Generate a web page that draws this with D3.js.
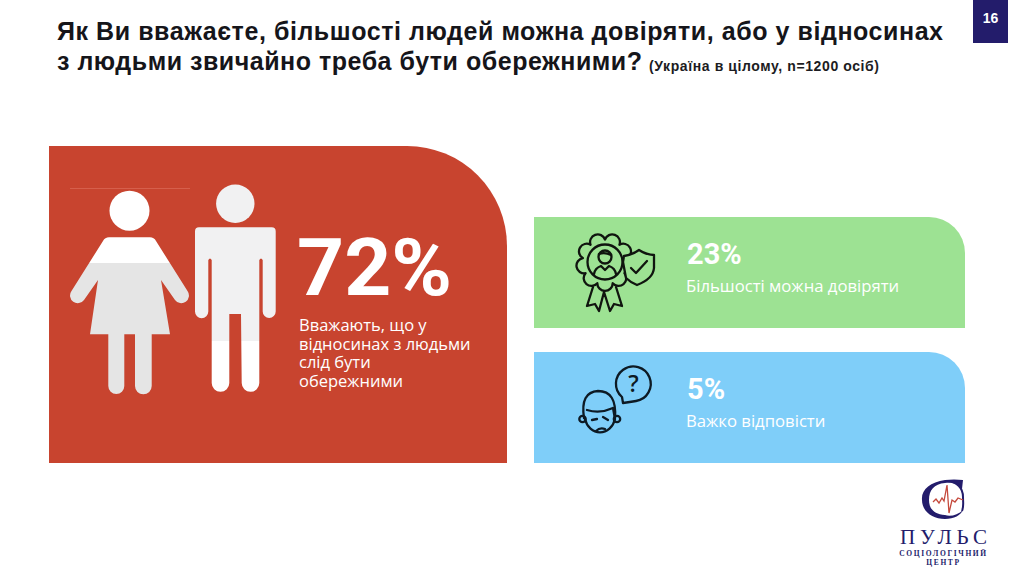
<!DOCTYPE html>
<html>
<head>
<meta charset="utf-8">
<script src="https://cdn.jsdelivr.net/npm/d3@7"></script>
<style>
  html, body { margin: 0; padding: 0; background: #fff; }
  svg { display: block; }
</style>
</head>
<body>
<div class="chart"></div>
<script>
// chart values
var categories = ["cautious", "trust", "hard"];
var values = [72, 23, 5];
var captions = [
  ["Вважають, що у", "відносинах з людьми", "слід бути", "обережними"],
  ["Більшості можна довіряти"],
  ["Важко відповісти"]
];
var colors = ["#C8442F", "#9DE293", "#7FCEF9"];

var titleLines = [
  "Як Ви вважаєте, більшості людей можна довіряти, або у відносинах",
  "з людьми звичайно треба бути обережними?"
];
var subtitle = "(Україна в цілому, n=1200 осіб)";
var pageNumber = "16";
var logoName = "ПУЛЬС";
var logoLines = ["СОЦІОЛОГІЧНИЙ", "ЦЕНТР"];

var svgWidth = 1024;
var svgHeight = 572;
var navy = "#231C6B";
var font = "'Open Sans', 'Noto Sans', sans-serif";
var numberFont = "Roboto, 'Open Sans', sans-serif";
var titleFont = "'Liberation Sans', Arial, sans-serif";

var svg = d3.select(".chart")
  .append("svg")
  .attr("width", svgWidth)
  .attr("height", svgHeight)
  .attr("viewBox", `0 0 ${svgWidth} ${svgHeight}`);

// panel with only the top right corner rounded
function panelPath(x, y, w, h, r) {
  var p = d3.path();
  p.moveTo(x, y);
  p.lineTo(x + w - r, y);
  p.arcTo(x + w, y, x + w, y + r, r);
  p.lineTo(x + w, y + h);
  p.lineTo(x, y + h);
  p.closePath();
  return p.toString();
}

// header
var title = svg.append("g");
title.selectAll("text")
  .data(titleLines)
  .enter()
  .append("text")
  .attr("x", 57)
  .attr("y", (d, i) => 40 + i * 30)
  .attr("font-family", titleFont)
  .attr("font-weight", 700)
  .attr("font-size", 25)
  .attr("textLength", (d, i) => i === 0 ? 886 : 585)
  .attr("lengthAdjust", "spacing")
  .attr("fill", "#15151a")
  .text(d => d);

svg.append("text")
  .attr("x", 649)
  .attr("y", 71)
  .attr("font-family", titleFont)
  .attr("font-weight", 700)
  .attr("font-size", 14)
  .attr("textLength", 230)
  .attr("lengthAdjust", "spacing")
  .attr("fill", "#1c1c22")
  .text(subtitle);

svg.append("rect")
  .attr("x", 973)
  .attr("y", 0)
  .attr("width", 35)
  .attr("height", 43)
  .attr("fill", navy);

svg.append("text")
  .attr("x", 990.5)
  .attr("y", 23)
  .attr("text-anchor", "middle")
  .attr("font-family", titleFont)
  .attr("font-weight", 700)
  .attr("font-size", 14)
  .attr("fill", "#fff")
  .text(pageNumber);

// big red panel
svg.append("path")
  .attr("d", panelPath(49, 146, 458, 317, 100))
  .attr("fill", colors[0]);

svg.append("line")
  .attr("x1", 70).attr("x2", 190)
  .attr("y1", 188.5).attr("y2", 188.5)
  .attr("stroke", "#d65f4c")
  .attr("stroke-width", 1);

// the two smaller panels
var yBand = d3.scaleBand()
  .domain(categories.slice(1))
  .range([217, 463])
  .paddingInner(0.178);

var smallData = categories.slice(1).map((c, i) => ({
  key: c,
  value: values[i + 1],
  caption: captions[i + 1][0],
  color: colors[i + 1]
}));

var cards = svg.selectAll(".card")
  .data(smallData)
  .enter()
  .append("g")
  .attr("class", "card")
  .attr("transform", d => `translate(534, ${yBand(d.key)})`);

cards.append("path")
  .attr("d", panelPath(0, 0, 431, yBand.bandwidth(), 36))
  .attr("fill", d => d.color);

cards.append("text")
  .attr("x", 153)
  .attr("y", 47)
  .attr("font-family", numberFont)
  .attr("font-weight", 700)
  .attr("font-size", 29)
  .attr("fill", "#fff")
  .text(d => d.value + "%");

cards.append("text")
  .attr("x", 152)
  .attr("y", 75)
  .attr("font-family", font)
  .attr("font-size", 16.7)
  .attr("fill", "#fff")
  .text(d => d.caption);

// big number and caption
svg.append("text")
  .attr("x", 297)
  .attr("y", 295)
  .attr("font-family", numberFont)
  .attr("font-weight", 700)
  .attr("font-size", 80)
  .attr("textLength", 155)
  .attr("lengthAdjust", "spacingAndGlyphs")
  .attr("fill", "#fff")
  .text(values[0] + "%");

svg.append("text")
  .attr("font-family", font)
  .attr("font-size", 16.5)
  .attr("fill", "#fff")
  .selectAll("tspan")
  .data(captions[0])
  .enter()
  .append("tspan")
  .attr("x", 299)
  .attr("y", (d, i) => 331 + i * 18.7)
  .text(d => d);

// woman, white on top and grey below
var defs = svg.append("defs");
defs.append("clipPath").attr("id", "womanTop")
  .append("rect").attr("x", 60).attr("y", 180).attr("width", 140).attr("height", 83);
defs.append("clipPath").attr("id", "womanBottom")
  .append("rect").attr("x", 60).attr("y", 263).attr("width", 140).attr("height", 140);
defs.append("clipPath").attr("id", "manTop")
  .append("rect").attr("x", 185).attr("y", 180).attr("width", 100).attr("height", 161);
defs.append("clipPath").attr("id", "manBottom")
  .append("rect").attr("x", 185).attr("y", 341).attr("width", 100).attr("height", 60);

function drawWoman(g) {
  g.append("circle").attr("cx", 129.5).attr("cy", 210.7).attr("r", 20);
  g.append("path").attr("d",
    "M109,237.3 L150,237.3 Q154,237.3 156,241 L187.5,291 " +
    "A7.5,7.5 0 0 1 175,300 L161,280 L170,334.3 L151.7,334.3 L151.7,386 " +
    "A8.3,8.3 0 0 1 135,386 L135,334.3 L124.3,334.3 L124.3,386 " +
    "A8,8 0 0 1 108.3,386 L108.3,334.3 L90,334.3 L98,280 L84,300 " +
    "A7.5,7.5 0 0 1 71.5,291 L103,241 Q105,237.3 109,237.3 Z");
}

function drawMan(g) {
  g.append("circle").attr("cx", 235.3).attr("cy", 203.7).attr("r", 19.2);
  g.append("path").attr("d",
    "M199,227.3 L271.7,227.3 Q275.7,227.3 275.7,231.3 L275.7,311.5 " +
    "A6.5,6.5 0 0 1 262.7,311.5 L262.7,260 Q261,257 259.3,260 L259.3,383 " +
    "A8.5,8.5 0 0 1 241.7,383 L241,314 L229.3,314 L229.3,383 " +
    "A8.8,8.8 0 0 1 211.7,383 L211.7,260 Q210,257 208.3,260 L208.3,311.5 " +
    "A6.5,6.5 0 0 1 195,311.5 L195,231.3 Q195,227.3 199,227.3 Z");
}

drawWoman(svg.append("g").attr("clip-path", "url(#womanTop)").attr("fill", "#fff"));
drawWoman(svg.append("g").attr("clip-path", "url(#womanBottom)").attr("fill", "#E5E5E5"));
drawMan(svg.append("g").attr("clip-path", "url(#manTop)").attr("fill", "#F1F1F2"));
drawMan(svg.append("g").attr("clip-path", "url(#manBottom)").attr("fill", "#fff"));

// rosette icon
var rosette = svg.append("g")
  .attr("fill", "none")
  .attr("stroke", "#10150f")
  .attr("stroke-width", 2.3)
  .attr("stroke-linecap", "round")
  .attr("stroke-linejoin", "round");

var lobes = 9, rr = 22.5, rosetteD = "";
d3.range(lobes).forEach(function (i) {
  var a0 = (i / lobes) * 2 * Math.PI - Math.PI / 2;
  var a1 = ((i + 1) / lobes) * 2 * Math.PI - Math.PI / 2;
  var x0 = 605 + rr * Math.cos(a0), y0 = 262 + rr * Math.sin(a0);
  var x1 = 605 + rr * Math.cos(a1), y1 = 262 + rr * Math.sin(a1);
  rosetteD += (i === 0 ? `M${x0},${y0}` : "") + ` A5.5,5.5 0 1 1 ${x1},${y1}`;
});
rosette.append("path").attr("d", rosetteD);
rosette.append("circle").attr("cx", 605).attr("cy", 262).attr("r", 17.5);
rosette.append("circle").attr("cx", 605).attr("cy", 257).attr("r", 6.5);
rosette.append("path").attr("d", "M594,274 Q595,268 601,266 L605,270 L609,266 Q615,268 616,274");
rosette.append("path").attr("d", "M599,254 Q605,252 611,255");
rosette.append("path").attr("d", "M593,287 L587,306 L595,304 L599,311 L604,292 L610,311 L614,304 L622,306 L616,287");
// shield
rosette.append("path")
  .attr("d", "M639,250 Q647,255 654,255 L654,268 Q653,279 637,285 Q630,282 626,278 L623,262 L624,256 Q632,255 639,250 Z")
  .attr("fill", "#9DE293");
rosette.append("path").attr("d", "M631,268 L636,273 L647,261");

// confused person icon
var person = svg.append("g")
  .attr("fill", "none")
  .attr("stroke", "#0d1a24")
  .attr("stroke-width", 2.3)
  .attr("stroke-linecap", "round")
  .attr("stroke-linejoin", "round");

person.append("path").attr("d", "M623,403 L622,397 A17.4,17.4 0 1 1 636,401 Q630,402 623,403 Z");
person.append("text")
  .attr("x", 633.5)
  .attr("y", 391.5)
  .attr("text-anchor", "middle")
  .attr("font-family", font)
  .attr("font-weight", 600)
  .attr("font-size", 23)
  .attr("stroke", "none")
  .attr("fill", "#0d1a24")
  .text("?");
person.append("path").attr("d", "M584,418 Q580,392 598,391 Q617,391 615,418");
person.append("path").attr("d", "M585,419 A15.5,18 0 0 0 615,419 L613,408 Q600,414 587,410");
person.append("circle").attr("cx", 582.5).attr("cy", 419).attr("r", 3.2);
person.append("circle").attr("cx", 617).attr("cy", 419).attr("r", 3.2);
person.append("path").attr("d", "M592,420 L597,419 M603,417 L608,420 M596,431 Q600,427 605,429");

// logo
var logo = svg.append("g");
logo.append("path")
  .attr("fill", navy)
  .attr("d", "M963,480 Q954,479 945,480 C930,482 921,490 922,500 C922,511 932,519 945,519 C954,519 961,515 963,510 " +
    "C958,515 950,517 945,515 C933,514 929,508 929,500 C929,490 934,484 945,483 C953,482 958,484 962,489 Z");
logo.append("path")
  .attr("fill", "none")
  .attr("stroke", navy)
  .attr("stroke-width", 2)
  .attr("d", "M948,481 C957,482 963,488 963,497 C963,503 964,506 962,511");
logo.append("path")
  .attr("fill", "none")
  .attr("stroke", "#c5493c")
  .attr("stroke-width", 1.3)
  .attr("d", "M933,502 L936,499 L939,503 L942,498 L944,501 L947,485 L949,513 L952,500 L955,502 L958,498 L963,500");

logo.append("text")
  .attr("x", 943.5)
  .attr("y", 544)
  .attr("text-anchor", "middle")
  .attr("font-family", "'Liberation Serif', serif")
  .attr("font-size", 21)
  .attr("textLength", 87)
  .attr("fill", navy)
  .text(logoName);

logo.selectAll(".logo-line")
  .data(logoLines)
  .enter()
  .append("text")
  .attr("class", "logo-line")
  .attr("x", 943.5)
  .attr("y", (d, i) => 556 + i * 8.5)
  .attr("text-anchor", "middle")
  .attr("font-family", "'Liberation Serif', serif")
  .attr("font-weight", 700)
  .attr("font-size", 7.5)
  .attr("letter-spacing", 1.6)
  .attr("fill", navy)
  .text(d => d);
</script>
</body>
</html>
